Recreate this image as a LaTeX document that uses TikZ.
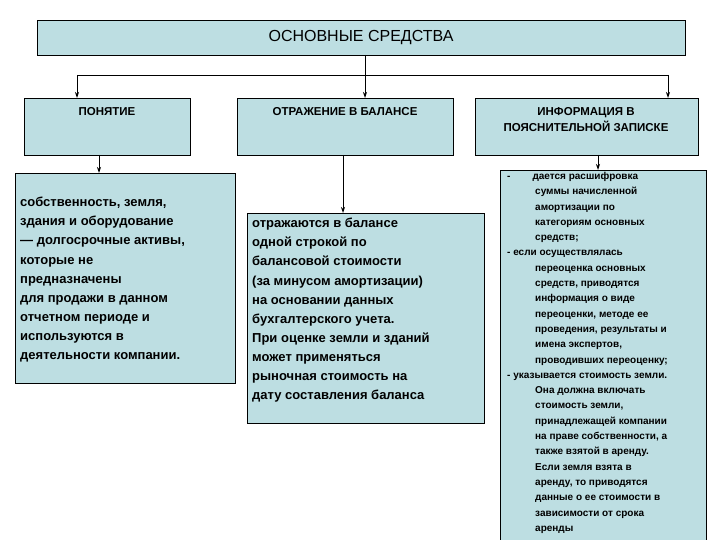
\documentclass[tikz,border=0pt]{standalone}
\usepackage{fontspec}
\setmainfont{Liberation Sans}
\usetikzlibrary{arrows.meta}
\begin{document}
\begin{tikzpicture}[x=1pt,y=-1pt,
  box/.style={draw=black,fill=boxc,line width=0.8pt},
  arr/.style={-{Stealth[length=6pt,width=4pt]},line width=0.9pt},
  ln/.style={line width=0.9pt},
  hdr/.style={font=\fontsize{11.5}{16}\selectfont\bfseries,align=center},
  body/.style={anchor=north west,align=left,inner sep=0pt,font=\fontsize{13}{19.1}\selectfont\bfseries},
  small/.style={anchor=north west,align=left,inner sep=0pt,font=\fontsize{10}{15.3}\selectfont\bfseries}]
\definecolor{boxc}{HTML}{BDDEE2}
\useasboundingbox (0,0) rectangle (720,540);
\fill[white] (0,0) rectangle (720,540);
\draw[box] (37,20) rectangle (685,55);
\node (top) at (361,37.5) {\fontsize{16}{18}\selectfont ОСНОВНЫЕ СРЕДСТВА};
\draw[box] (24,98) rectangle (190,155);
\draw[box] (237,98) rectangle (453,155);
\draw[box] (475,98) rectangle (698,155);
\node[hdr] (h1) at (107,112) {ПОНЯТИЕ};
\node[hdr] (h2) at (345,112) {ОТРАЖЕНИЕ В БАЛАНСЕ};
\node[hdr] (h3) at (586,120) {ИНФОРМАЦИЯ В\\ ПОЯСНИТЕЛЬНОЙ ЗАПИСКЕ};
\coordinate (jl) at (77,75); \coordinate (jr) at (668,75);
\draw[ln] (365,55) -- (365,75);
\draw[ln] (jl) -- (jr);
\draw[arr] (jl) -- (77,98);
\draw[arr] (jr) -- (668,98);
\draw[arr] (365,75) -- (365,98);
\draw[box] (15,173) rectangle (235,383);
\draw[box] (247,213) rectangle (484,423);
\draw[box] (500,170) rectangle (706,545);
\draw[arr] (99,155) -- (99,173);
\draw[arr] (343,155) -- (343,213);
\draw[arr] (598,155) -- (598,170);
\node[body] (t1) at (20,197) {собственность, земля,\\ здания и оборудование\\ — долгосрочные активы,\\ которые не\\ предназначены\\ для продажи в данном\\ отчетном периоде и\\ используются в\\ деятельности компании.};
\node[body] (t2) at (252,218) {отражаются в балансе\\ одной строкой по\\ балансовой стоимости\\ (за минусом амортизации)\\ на основании данных\\ бухгалтерского учета.\\ При оценке земли и зданий\\ может применяться\\ рыночная стоимость на\\ дату составления баланса};
\node[small] (t3) at (507,172) {-\hspace{22pt}дается расшифровка\\ \hspace*{28pt}суммы начисленной\\ \hspace*{28pt}амортизации по\\ \hspace*{28pt}категориям основных\\ \hspace*{28pt}средств;\\
- если осуществлялась\\ \hspace*{28pt}переоценка основных\\ \hspace*{28pt}средств, приводятся\\ \hspace*{28pt}информация о виде\\ \hspace*{28pt}переоценки, методе ее\\ \hspace*{28pt}проведения, результаты и\\ \hspace*{28pt}имена экспертов,\\ \hspace*{28pt}проводивших переоценку;\\
- указывается стоимость земли.\\ \hspace*{28pt}Она должна включать\\ \hspace*{28pt}стоимость земли,\\ \hspace*{28pt}принадлежащей компании\\ \hspace*{28pt}на праве собственности, а\\ \hspace*{28pt}также взятой в аренду.\\ \hspace*{28pt}Если земля взята в\\ \hspace*{28pt}аренду, то приводятся\\ \hspace*{28pt}данные о ее стоимости в\\ \hspace*{28pt}зависимости от срока\\ \hspace*{28pt}аренды};
\end{tikzpicture}
\end{document}
